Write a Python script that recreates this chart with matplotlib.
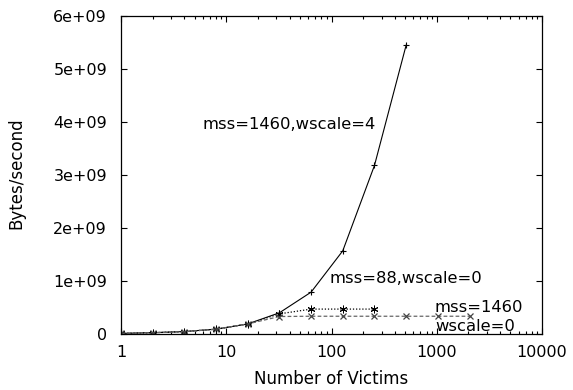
import matplotlib
matplotlib.use('Agg')
import matplotlib.pyplot as plt
from matplotlib.ticker import LogLocator, FixedLocator, NullFormatter

# ── data (throughput in bytes/second vs number of victims) ───────────────────
victims_ws4 = [1, 2, 4, 8, 16, 32, 64, 128, 256, 512]
bps_ws4 = [0.012e9, 0.025e9, 0.046e9, 0.092e9, 0.19e9, 0.40e9, 0.79e9,
           1.57e9, 3.18e9, 5.45e9]

victims_mss88 = [1, 2, 4, 8, 16, 32, 64, 128, 256]
bps_mss88 = [0.012e9, 0.024e9, 0.045e9, 0.09e9, 0.19e9, 0.38e9, 0.47e9,
             0.47e9, 0.47e9]

victims_ws0 = [1, 2, 4, 8, 16, 32, 64, 128, 256, 512, 1024, 2048]
bps_ws0 = [0.012e9, 0.024e9, 0.045e9, 0.09e9, 0.19e9, 0.33e9, 0.335e9,
           0.335e9, 0.335e9, 0.335e9, 0.335e9, 0.335e9]

y_ticks = [0, 1e9, 2e9, 3e9, 4e9, 5e9, 6e9]
y_tick_labels = ['0', '1e+09', '2e+09', '3e+09', '4e+09', '5e+09', '6e+09']
x_ticks = [1, 10, 100, 1000, 10000]
x_tick_labels = ['1', '10', '100', '1000', '10000']

FS = 11.5
plt.rcParams['font.family'] = ['DejaVu Sans']

fig = plt.figure(figsize=(5.73, 3.9), dpi=100)
ax = fig.add_axes([121 / 573, 1 - 334 / 390, 421 / 573, 318 / 390])

ax.plot(victims_ws4, bps_ws4, color='black', lw=0.8, ls='-',
        marker='+', ms=4.5, mew=0.8)
ax.plot(victims_mss88, bps_mss88, color='black', lw=0.9, ls=(0, (1, 1.5)),
        marker=(6, 2, 0), ms=5.5, mew=0.7)
ax.plot(victims_ws0, bps_ws0, color='#666666', lw=0.9, ls=(0, (3, 1.8)),
        marker='x', ms=4.5, mew=0.9, mec='#444444')

ax.set_xscale('log')
ax.set_xlim(1, 10000)
ax.set_ylim(0, 6e9)

ax.xaxis.set_major_locator(FixedLocator(x_ticks))
ax.set_xticklabels(x_tick_labels)
ax.xaxis.set_minor_locator(LogLocator(base=10, subs=range(2, 10)))
ax.xaxis.set_minor_formatter(NullFormatter())
ax.set_yticks(y_ticks)
ax.set_yticklabels(y_tick_labels)

ax.tick_params(which='both', direction='in', top=True, right=True,
               labelsize=FS, width=0.8)
ax.tick_params(which='major', length=4.5, pad=8)
ax.tick_params(axis='y', which='major', pad=10)
ax.tick_params(which='minor', length=2.5)
for spine in ax.spines.values():
    spine.set_linewidth(0.9)

ax.set_xlabel('Number of Victims', fontsize=FS + 0.5)
ax.set_ylabel('Bytes/second', fontsize=FS + 0.5)
ax.xaxis.set_label_coords(0.5, -0.112)
ax.yaxis.set_label_coords(-0.226, 0.505)

# curve labels
ax.text(6.0, 3.96e9, 'mss=1460,wscale=4', fontsize=FS + 0.3, va='center')
ax.text(95, 1.05e9, 'mss=88,wscale=0', fontsize=FS + 0.3, va='center')
ax.text(960, 0.5e9, 'mss=1460', fontsize=FS + 0.3, va='center')
ax.text(960, 0.14e9, 'wscale=0', fontsize=FS + 0.3, va='center')

fig.savefig('out.png', dpi=100)
